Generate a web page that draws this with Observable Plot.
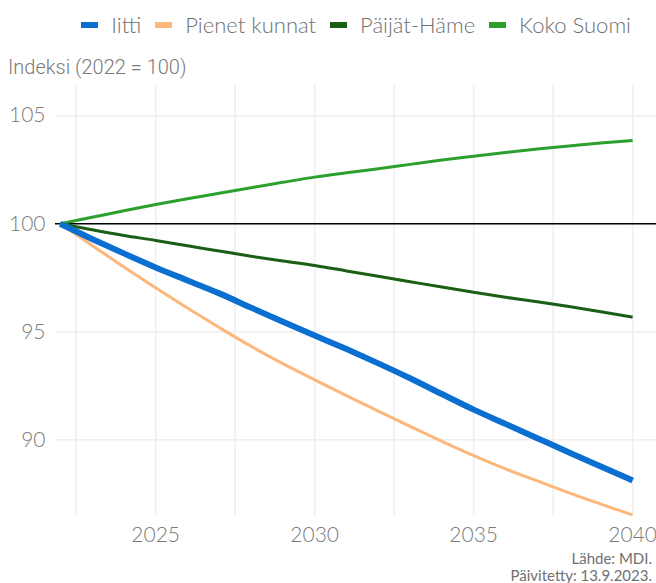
<!DOCTYPE html>
<html>
<head>
<meta charset="utf-8">
<script src="https://cdn.jsdelivr.net/npm/d3@7"></script>
<script src="https://cdn.jsdelivr.net/npm/@observablehq/plot@0.6"></script>
<style>
  html, body { margin: 0; padding: 0; background: #fff; }
  #wrap { position: relative; width: 656px; height: 583px; overflow: hidden; font-family: Lato, "Open Sans", sans-serif; background: #fff; }
  #legend { position: absolute; top: 11px; left: 0; width: 656px; display: flex; justify-content: flex-end; padding-right: 25px; box-sizing: border-box; font-size: 22px; font-weight: 300; color: #707070; z-index: 2; }
  #legend .item { display: flex; align-items: center; margin-left: 14px; }
  #legend .sw { width: 17px; height: 6px; margin-right: 13px; }
  #ytitle { position: absolute; left: 8px; top: 55px; font-family: Roboto, "Liberation Sans", sans-serif; font-weight: 300; font-size: 20px; color: #7a7a7a; z-index: 2; white-space: nowrap; }
  #chart { position: absolute; left: 0; top: 45px; z-index: 1; }
  #caption { position: absolute; right: 4px; top: 550px; text-align: right; font-size: 15px; line-height: 17px; color: #707070; z-index: 2; }
</style>
</head>
<body>
<div id="wrap">
  <div id="chart"></div>
  <div id="legend"></div>
  <div id="ytitle">Indeksi (2022 = 100)</div>
  <div id="caption">Lähde: MDI.<br>Päivitetty: 13.9.2023.</div>
</div>
<script>
const years = [2022,2023,2024,2025,2026,2027,2028,2029,2030,2031,2032,2033,2034,2035,2036,2037,2038,2039,2040];
const seriesNames = ["Iitti", "Pienet kunnat", "Päijät-Häme", "Koko Suomi"];
const seriesColors = ["#0a6fd0", "#fdb77a", "#1b5e16", "#2ca02c"];
const iitti = [100,99.3,98.63,97.98,97.38,96.78,96.12,95.47,94.83,94.2,93.54,92.85,92.12,91.4,90.74,90.08,89.42,88.77,88.12];
const pienetKunnat = [100,99.0,98.0,97.04,96.1,95.2,94.33,93.53,92.78,92.05,91.33,90.62,89.93,89.27,88.66,88.1,87.55,87.03,86.52];
const paijatHame = [100,99.72,99.46,99.23,98.98,98.74,98.5,98.28,98.07,97.82,97.57,97.32,97.07,96.83,96.6,96.39,96.17,95.93,95.68];
const kokoSuomi = [100,100.3,100.6,100.89,101.16,101.41,101.67,101.92,102.16,102.36,102.55,102.75,102.95,103.13,103.3,103.46,103.6,103.74,103.86];
const yTicks = [90, 95, 100, 105];
const xTicks = [2025, 2030, 2035, 2040];
const xGrid = [2022.5, 2025, 2027.5, 2030, 2032.5, 2035, 2037.5, 2040];
const baseline = [100];

const valuesBySeries = [iitti, pienetKunnat, paijatHame, kokoSuomi];
const rows = [];
seriesNames.forEach((s, i) => years.forEach((y, j) => rows.push({series: s, year: y, value: valuesBySeries[i][j]})));

// legend
const legend = document.getElementById("legend");
seriesNames.forEach((s, i) => {
  const it = document.createElement("div");
  it.className = "item";
  it.innerHTML = `<span class="sw" style="background:${seriesColors[i]}"></span><span>${s}</span>`;
  legend.appendChild(it);
});

const lineOf = (name, w) => Plot.line(rows.filter(d => d.series === name), {
  x: "year", y: "value", stroke: "series", strokeWidth: w, curve: "monotone-x", strokeLinejoin: "round", strokeLinecap: "butt"
});

const chart = Plot.plot({
  width: 656,
  height: 505,
  marginLeft: 55,
  marginRight: 0,
  marginTop: 40,
  marginBottom: 35,
  style: { fontFamily: "Lato, 'Open Sans', sans-serif", fontSize: "21px", fontWeight: 300, color: "#7a7a7a", background: "transparent" },
  x: { domain: [2021.85, 2040.75], ticks: xTicks, tickFormat: d => String(d), tickSize: 0, tickPadding: 12, label: null },
  y: { domain: [86.5, 106.4], ticks: yTicks, tickSize: 0, tickPadding: 10, label: null },
  color: { domain: seriesNames, range: seriesColors },
  marks: [
    Plot.gridX(xGrid, { stroke: "#eeeeee", strokeOpacity: 1, strokeWidth: 1.5 }),
    Plot.gridY(yTicks, { stroke: "#eeeeee", strokeOpacity: 1, strokeWidth: 1.5 }),
    Plot.ruleY(baseline, { stroke: "#000", strokeWidth: 1.5 }),
    lineOf("Koko Suomi", 3),
    lineOf("Päijät-Häme", 3),
    lineOf("Pienet kunnat", 3),
    lineOf("Iitti", 6),
    Plot.axisX({ ticks: xTicks, tickFormat: d => String(d), tickSize: 0, tickPadding: 12, label: null }),
    Plot.axisY({ ticks: yTicks, tickSize: 0, tickPadding: 10, label: null })
  ]
});
document.getElementById("chart").appendChild(chart);
</script>
</body>
</html>
